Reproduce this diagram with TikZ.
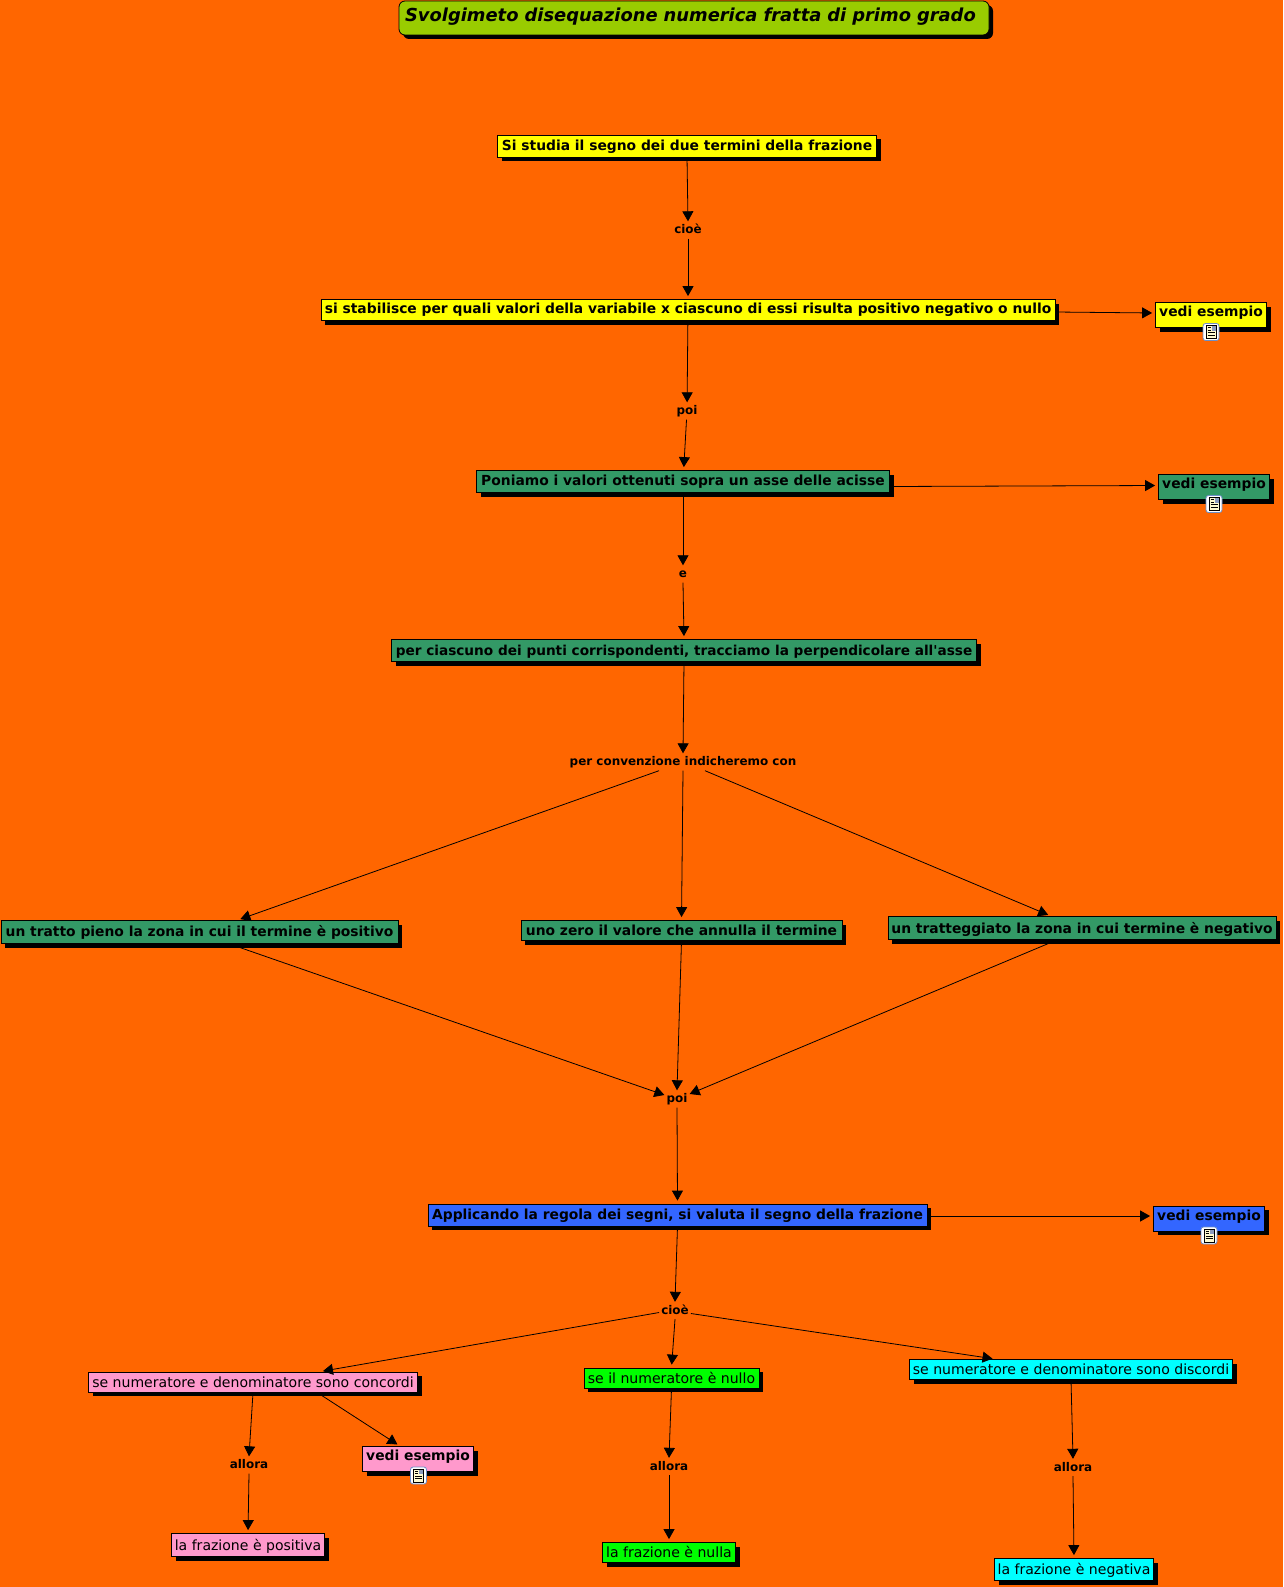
\documentclass[tikz,border=0pt]{standalone}
\usepackage{fontspec}
\setmainfont{DejaVu Sans}
\usepackage{tikz}
\usetikzlibrary{arrows.meta}
\usetikzlibrary{shadows}
\usetikzlibrary{positioning}

\definecolor{sfondo}{HTML}{FF6600}
\definecolor{oliva}{HTML}{99CC00}
\definecolor{giallo}{HTML}{FFFF00}
\definecolor{verdone}{HTML}{339966}
\definecolor{azzurro}{HTML}{3366FF}
\definecolor{rosa}{HTML}{FF99CC}
\definecolor{lime}{HTML}{00FF00}
\definecolor{ciano}{HTML}{00FFFF}
\definecolor{bordoicona}{HTML}{6E8FC8}
\definecolor{carta}{HTML}{FFFBD0}
\definecolor{figura}{HTML}{8C9CC0}

\tikzset{
    docicon/.pic={
            \draw[draw=bordoicona, fill=white, rounded corners=2.5pt, line width=0.8pt] (-8pt,-8.5pt) rectangle (8pt,8.5pt);
            \draw[fill=carta, line width=0.5pt] (-5pt,-6.5pt) rectangle (5pt,6.5pt);
            \fill[figura] (0.5pt,1.5pt) rectangle (4.5pt,6pt);
            \draw[line width=0.5pt] (-3.5pt,4.5pt) -- (-0.5pt,4.5pt) (-3.5pt,2pt) -- (-0.5pt,2pt) (-3.5pt,-0.5pt) -- (3.5pt,-0.5pt) (-3.5pt,-3pt) -- (3.5pt,-3pt);
        }
}

\begin{document}
\begin{tikzpicture}[
                x=1pt,
                y=-1pt,
                >={Triangle[length=10pt,width=11pt]},
                link/.style={
                        ->,
                        line width=0.8pt,
                        shorten >=3pt
                    },
                conc/.style={
                        draw=black,
                        line width=0.8pt,
                        inner sep=0pt,
                        text height=11pt,
                        text depth=3pt,
                        align=center,
                        drop shadow={shadow xshift=4pt,shadow yshift=-4pt,opacity=1,fill=black}
                    },
                boldbox/.style={
                        conc,
                        font=\fontsize{13.85}{17}\selectfont\bfseries
                    },
                plainbox/.style={
                        conc,
                        text height=13pt,
                        font=\fontsize{14.05}{17}\selectfont
                    },
                vedibox/.style={
                        boldbox,
                        minimum width=111pt,
                        minimum height=25pt,
                        text depth=8pt
                    },
                textnode/.style={
                        inner xsep=2pt,
                        inner ysep=3pt,
                        text height=9pt,
                        text depth=2pt,
                        align=center,
                        font=\fontsize{11.95}{15}\selectfont\bfseries
                    }
            ]

            % Background
            \fill[sfondo] (0,0) rectangle (1283,1587);
            \useasboundingbox (0,0) rectangle (1283,1587);

            % Title
            \node[conc, fill=oliva, rounded corners=6pt, inner xsep=6pt, text width=578pt, align=left, minimum height=34pt, font=\fontsize{17.9}{22}\selectfont\bfseries\itshape] (Titolo) at (694,18) {Svolgimeto disequazione numerica fratta di primo grado};

            % Upper concepts
            \node[boldbox, fill=giallo, minimum width=379pt, minimum height=22pt] (Studio) at (687,146) {Si studia il segno dei due termini della frazione};
            \node[boldbox, fill=giallo, text depth=5pt, minimum width=734pt, minimum height=21pt] (Stabilisce) at (688,310) {si stabilisce per quali valori della variabile x ciascuno di essi risulta positivo negativo o nullo};
            \node[vedibox, fill=giallo] (VediA) at (1211,315) {vedi esempio};
            \node[boldbox, fill=verdone, minimum width=413pt, minimum height=22pt] (Poniamo) at (683,481.5) {Poniamo i valori ottenuti sopra un asse delle acisse};
            \node[vedibox, fill=verdone] (VediB) at (1214,487) {vedi esempio};
            \node[boldbox, fill=verdone, text height=13pt, minimum width=585pt, minimum height=22pt, font=\fontsize{13.65}{17}\selectfont\bfseries] (Perpend) at (684,650.5) {per ciascuno dei punti corrispondenti, tracciamo la perpendicolare all\textquotesingle asse};

            % Three conventions
            \node[boldbox, fill=verdone, minimum width=397pt, minimum height=23pt] (Pieno) at (199.5,932) {un tratto pieno la zona in cui il termine è positivo};
            \node[boldbox, fill=verdone, text height=13pt, minimum width=321pt, minimum height=20pt] (Zero) at (681.5,930.5) {uno zero il valore che annulla il termine};
            \node[boldbox, fill=verdone, text height=13pt, minimum width=388pt, minimum height=23pt] (Tratteggio) at (1082,928) {un tratteggiato la zona in cui termine è negativo};

            % Sign of the fraction
            \node[boldbox, fill=azzurro, minimum width=499pt, minimum height=22pt] (Regola) at (677.5,1215) {Applicando la regola dei segni, si valuta il segno della frazione};
            \node[vedibox, fill=azzurro] (VediC) at (1209,1218.5) {vedi esempio};

            % Lower concepts
            \node[plainbox, fill=rosa, minimum width=329pt, minimum height=20pt] (Concordi) at (253,1382) {se numeratore e denominatore sono concordi};
            \node[plainbox, fill=lime, minimum width=175pt, minimum height=20pt] (Nullo) at (671.5,1378) {se il numeratore è nullo};
            \node[plainbox, fill=ciano, minimum width=323pt, minimum height=20pt] (Discordi) at (1071,1369.5) {se numeratore e denominatore sono discordi};
            \node[vedibox, fill=rosa] (VediD) at (418,1459) {vedi esempio};
            \node[plainbox, fill=rosa, minimum width=153pt, minimum height=23pt] (Positiva) at (248,1545) {la frazione è positiva};
            \node[plainbox, fill=lime, minimum width=133pt, minimum height=20pt] (FNulla) at (669,1552.5) {la frazione è nulla};
            \node[plainbox, fill=ciano, minimum width=159pt, minimum height=22pt] (Negativa) at (1074,1569.5) {la frazione è negativa};

            % Link phrases
            \node[textnode] (Cioe) at (688,230) {cioè};
            \node[textnode] (Poi) at (687,411) {poi};
            \node[textnode] (Ee) at (683,574) {e};
            \node[textnode] (Convenzione) at (683,762) {per convenzione indicheremo con};
            \node[textnode] (PoiB) at (677,1099) {poi};
            \node[textnode] (CioeB) at (675,1310.5) {cioè};
            \node[textnode] (AlloraA) at (249,1465) {allora};
            \node[textnode] (AlloraB) at (669,1466.5) {allora};
            \node[textnode] (AlloraC) at (1073,1467.5) {allora};

            % Icons
            \pic at (1211,332) {docicon};
            \pic at (1214,504) {docicon};
            \pic at (1209,1235.5) {docicon};
            \pic at (418.5,1475.5) {docicon};

            % Arrows
            \draw[link, shorten >=0pt] (Studio.south) -- (Cioe.north);
            \draw[link] (Cioe.south) -- (Stabilisce.north);
            \draw[link] ([yshift=-2pt]Stabilisce.east) -- ([yshift=2pt]VediA.west);
            \draw[link, shorten >=0pt] (Stabilisce) -- (Poi);
            \draw[link] (Poi) -- (Poniamo);
            \draw[link] ([yshift=-5pt]Poniamo.east) -- ([yshift=1.5pt]VediB.west);
            \draw[link, shorten >=0pt] (Poniamo.south) -- (Ee.north);
            \draw[link] (Ee.south) -- (Perpend.north);
            \draw[link, shorten >=0pt] (Perpend.south) -- (Convenzione.north);
            \draw[link] ([xshift=-24pt]Convenzione.south) -- ([xshift=38pt]Pieno.north);
            \draw[link] (Convenzione.south) -- (Zero.north);
            \draw[link] ([xshift=22pt]Convenzione.south) -- ([xshift=-31pt]Tratteggio.north);
            \draw[link, shorten >=0pt] ([xshift=30pt]Pieno.south) -- ([yshift=4pt]PoiB.west);
            \draw[link, shorten >=0pt] (Zero.south) -- (PoiB.north);
            \draw[link, shorten >=0pt] ([xshift=-25pt]Tratteggio.south) -- ([yshift=5pt]PoiB.east);
            \draw[link] (PoiB.south) -- (Regola.north);
            \draw[link] ([yshift=-1pt]Regola.east) -- ([yshift=2.5pt]VediC.west);
            \draw[link, shorten >=0pt] (Regola.south) -- (CioeB.north);
            \draw[link] ([yshift=-2pt]CioeB.west) -- ([xshift=67pt]Concordi.north);
            \draw[link] (CioeB.south) -- (Nullo.north);
            \draw[link] ([yshift=-3pt]CioeB.east) -- ([xshift=-75.5pt]Discordi.north);
            \draw[link, shorten >=0pt] (Concordi.south) -- (AlloraA.north);
            \draw[link] ([xshift=64pt]Concordi.south) -- ([xshift=-18pt]VediD.north);
            \draw[link] (AlloraA.south) -- (Positiva.north);
            \draw[link, shorten >=0pt] (Nullo.south) -- (AlloraB.north);
            \draw[link] (AlloraB.south) -- (FNulla.north);
            \draw[link, shorten >=0pt] (Discordi.south) -- (AlloraC.north);
            \draw[link] (AlloraC.south) -- (Negativa.north);

        \end{tikzpicture}
\end{document}
